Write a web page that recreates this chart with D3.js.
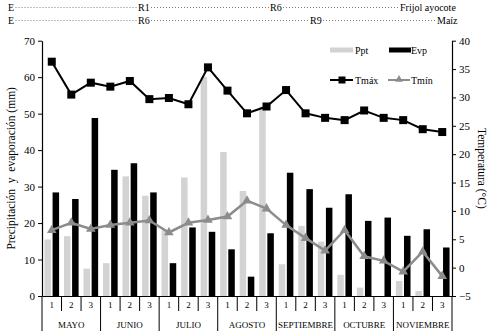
<!DOCTYPE html>
<html>
<head>
<meta charset="utf-8">
<script src="https://cdn.jsdelivr.net/npm/d3@7"></script>
<style>
  body { margin: 0; background: #fff; }
  svg text { font-family: "Liberation Serif", "DejaVu Serif", serif; fill: #000; }
</style>
</head>
<body>
<div id="chart"></div>
<script>
const months = ["MAYO", "JUNIO", "JULIO", "AGOSTO", "SEPTIEMBRE", "OCTUBRE", "NOVIEMBRE"];
const dekadLabels = ["1", "2", "3"];
// precipitation and evaporation per dekad (mm)
const ppt = [15.5, 16.4, 7.5, 9.0, 32.8, 27.5, 18.0, 32.5, 60.1, 39.5, 28.8, 51.9, 8.7, 19.2, 14.9, 5.8, 2.3, 0, 4.1, 1.4, 0];
const evp = [28.4, 26.6, 48.8, 34.6, 36.4, 28.4, 9.0, 18.8, 17.6, 12.8, 5.3, 17.2, 33.8, 29.3, 24.2, 27.9, 20.6, 21.5, 16.5, 18.3, 13.3];
// temperatures (°C)
const tmax = [36.3, 30.5, 32.6, 31.9, 32.9, 29.7, 29.9, 28.8, 35.3, 31.2, 27.2, 28.4, 31.3, 27.2, 26.4, 26.0, 27.7, 26.4, 26.0, 24.4, 23.9];
const tmin = [6.6, 7.9, 6.8, 7.5, 7.9, 8.3, 6.2, 7.9, 8.4, 9.0, 11.8, 10.4, 7.5, 5.2, 3.0, 6.6, 2.0, 1.2, -0.7, 2.8, -1.5];
const leftTicks = [0, 10, 20, 30, 40, 50, 60, 70];
const rightTicks = [-5, 0, 5, 10, 15, 20, 25, 30, 35, 40];
const stageRows = [
  { labels: ["E", "R1", "R6", "Frijol ayocote"], pos: [8, 138, 270, 400] },
  { labels: ["E", "R6", "R9", "Maíz"], pos: [8, 138, 310, 437] }
];

const W = 492, H = 331;
const plotLeft = 42, plotRight = 452, plotTop = 40.7, base = 296;

const svg = d3.select("#chart").append("svg")
  .attr("width", W).attr("height", H);

const dekads = d3.range(ppt.length);
const x = d3.scaleBand().domain(dekads).range([plotLeft, plotRight]).padding(0);
const sub = d3.scaleBand().domain(["ppt", "evp"]).range([0, x.bandwidth()])
  .paddingInner(0.2).paddingOuter(0.3);
const y = d3.scaleLinear().domain([0, 70]).range([base, plotTop]);
const y2 = d3.scaleLinear().domain([-5, 40]).range([base, plotTop]);

// header growth stages
stageRows.forEach((row, r) => {
  const yy = 11 + r * 13;
  const g = svg.append("g");
  const texts = row.labels.map((t, i) => g.append("text")
    .attr("x", row.pos[i]).attr("y", yy)
    .attr("font-size", 10).text(t));
  for (let i = 0; i < texts.length - 1; i++) {
    const a = texts[i].node().getBBox();
    const b = texts[i + 1].node().getBBox();
    g.append("line")
      .attr("x1", a.x + a.width + 1.5).attr("x2", b.x - 1)
      .attr("y1", yy - 3.5).attr("y2", yy - 3.5)
      .attr("stroke", "#333").attr("stroke-width", 0.8)
      .attr("stroke-dasharray", "0.8,2.2");
  }
});

// bars
svg.append("g").selectAll("rect")
  .data(dekads)
  .join("rect")
  .attr("x", d => x(d) + sub("ppt"))
  .attr("y", d => y(ppt[d]))
  .attr("width", sub.bandwidth())
  .attr("height", d => base - y(ppt[d]))
  .attr("fill", "#d3d3d3");

svg.append("g").selectAll("rect")
  .data(dekads)
  .join("rect")
  .attr("x", d => x(d) + sub("evp"))
  .attr("y", d => y(evp[d]))
  .attr("width", sub.bandwidth())
  .attr("height", d => base - y(evp[d]))
  .attr("fill", "#000");

// lines
const cx = d => x(d) + x.bandwidth() / 2;
const minLine = d3.line().x(cx).y(d => y2(tmin[d]));
const maxLine = d3.line().x(cx).y(d => y2(tmax[d]));

svg.append("path").datum(dekads)
  .attr("d", minLine).attr("fill", "none")
  .attr("stroke", "#8c8c8c").attr("stroke-width", 2.5);
svg.append("g").selectAll("path")
  .data(dekads)
  .join("path")
  .attr("transform", d => `translate(${cx(d)},${y2(tmin[d])})`)
  .attr("d", d3.symbol(d3.symbolTriangle, 40))
  .attr("fill", "#8c8c8c");

svg.append("path").datum(dekads)
  .attr("d", maxLine).attr("fill", "none")
  .attr("stroke", "#000").attr("stroke-width", 2);
svg.append("g").selectAll("rect")
  .data(dekads)
  .join("rect")
  .attr("x", d => cx(d) - 4).attr("y", d => y2(tmax[d]) - 4)
  .attr("width", 8).attr("height", 8)
  .attr("fill", "#000");

// left axis
svg.append("g")
  .attr("transform", `translate(${plotLeft},0)`)
  .call(d3.axisLeft(y).tickValues(leftTicks).tickSize(4).tickSizeOuter(0))
  .call(g => g.selectAll("text").attr("font-size", 11).attr("font-family", "Liberation Serif"))
  .call(g => g.select(".domain").attr("stroke-width", 1.2));

// right axis
svg.append("g")
  .attr("transform", `translate(${plotRight},0)`)
  .call(d3.axisRight(y2).tickValues(rightTicks).tickSize(4).tickSizeOuter(0))
  .call(g => g.selectAll("text").attr("font-size", 11).attr("font-family", "Liberation Serif"))
  .call(g => g.select(".domain").attr("stroke-width", 1.2));

// bottom axis: dekads
svg.append("g")
  .attr("transform", `translate(0,${base})`)
  .call(d3.axisBottom(x).tickSize(0).tickSizeOuter(0)
    .tickFormat(d => dekadLabels[d % 3]))
  .call(g => g.selectAll("text").attr("font-size", 9).attr("dy", "0.95em")
    .attr("font-family", "Liberation Serif"))
  .call(g => g.select(".domain").attr("stroke-width", 1.2));

// separators between dekads and months
const bounds = d3.range(ppt.length + 1);
svg.append("g").selectAll("line")
  .data(bounds)
  .join("line")
  .attr("x1", d => plotLeft + d * x.step()).attr("x2", d => plotLeft + d * x.step())
  .attr("y1", base).attr("y2", d => d % 3 === 0 ? H : base + 15)
  .attr("stroke", "#000").attr("stroke-width", 1);

svg.append("g").selectAll("text")
  .data(months)
  .join("text")
  .attr("x", (d, i) => plotLeft + (i * 3 + 1.5) * x.step())
  .attr("y", 328)
  .attr("text-anchor", "middle")
  .attr("font-size", 9)
  .text(d => d);

// axis titles
svg.append("text")
  .attr("transform", `translate(15,${(plotTop + base) / 2}) rotate(-90)`)
  .attr("text-anchor", "middle")
  .attr("font-size", 11.5)
  .attr("xml:space", "preserve")
  .text("Precipitación  y  evaporación (mm)");

svg.append("text")
  .attr("transform", `translate(478,${(plotTop + base) / 2}) rotate(90)`)
  .attr("text-anchor", "middle")
  .attr("font-size", 11.5)
  .text("Temperatura (°C)");

// legend
const lg = svg.append("g").attr("font-size", 10);
lg.append("rect").attr("x", 330).attr("y", 47.5).attr("width", 23).attr("height", 5).attr("fill", "#d3d3d3");
lg.append("text").attr("x", 355).attr("y", 53.5).text("Ppt");
lg.append("rect").attr("x", 389).attr("y", 47.5).attr("width", 22).attr("height", 5).attr("fill", "#000");
lg.append("text").attr("x", 411).attr("y", 53.5).text("Evp");

lg.append("line").attr("x1", 330).attr("x2", 353).attr("y1", 80).attr("y2", 80)
  .attr("stroke", "#000").attr("stroke-width", 2);
lg.append("rect").attr("x", 338.5).attr("y", 76.5).attr("width", 7).attr("height", 7).attr("fill", "#000");
lg.append("text").attr("x", 355).attr("y", 84).text("Tmáx");
lg.append("line").attr("x1", 388).attr("x2", 410).attr("y1", 80).attr("y2", 80)
  .attr("stroke", "#8c8c8c").attr("stroke-width", 2);
lg.append("path").attr("transform", "translate(399,79.5)")
  .attr("d", d3.symbol(d3.symbolTriangle, 25)).attr("fill", "#8c8c8c");
lg.append("text").attr("x", 411).attr("y", 84).text("Tmín");
</script>
</body>
</html>
